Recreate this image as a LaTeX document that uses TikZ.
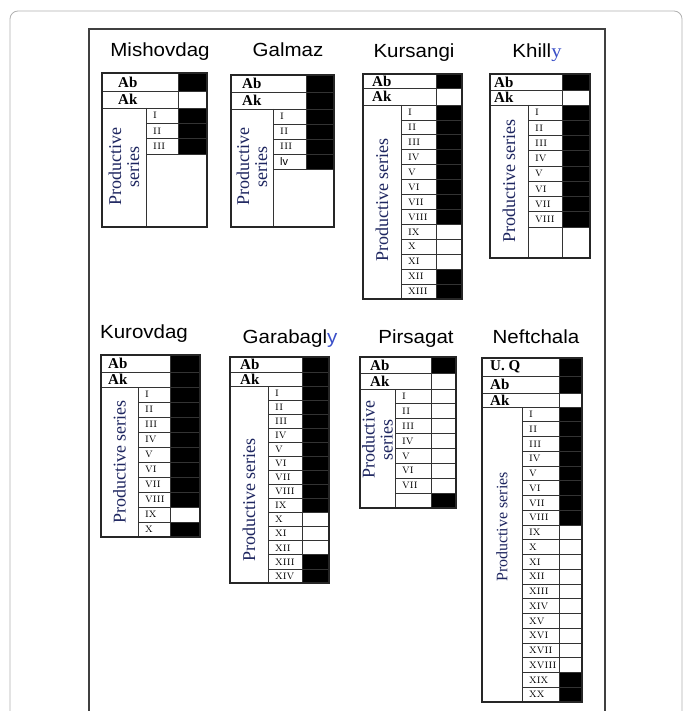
\documentclass[tikz,border=0pt]{standalone}
\usepackage{fontspec}
\usepackage{graphicx}
\newfontfamily\ars{Liberation Sans}
\newfontfamily\tnr{Liberation Serif}
\definecolor{navy}{HTML}{1E2660}
\definecolor{yblue}{HTML}{3A4FC8}
\tikzset{
 tabframe/.style={draw=black!85, line width=1.3pt},
 cellline/.style={draw=black!80, line width=0.8pt},
 ink/.style={fill=black},
 hd/.style={font=\tnr\bfseries\fontsize{15}{15}\selectfont, inner sep=0pt, anchor=west},
 num/.style={font=\fontsize{12.5}{12.5}\selectfont\scshape, inner sep=0pt, anchor=west},
 lab/.style={font=\tnr\fontsize{18}{18}\selectfont, text=navy, inner sep=0pt, rotate=90, align=center},
 ttl/.style={font=\ars\fontsize{19}{19}\selectfont, inner sep=0pt, anchor=base},
}
\newcommand\wide[1]{\scalebox{1.08}[1]{#1}}
% header row: name, L, x2, R, ya, yb, text, black, text offset
\newcommand\hdrow[9]{%
  \ifnum#8=1 \fill[ink] (#3,#5) rectangle (#4,#6);\fi
  \draw[cellline] (#2,#5) rectangle (#3,#6);
  \draw[cellline] (#3,#5) rectangle (#4,#6);
  \node[hd] (#1) at (#2+#9,{(#5+#6)/2}) {#7};}
% numbered rows: name, L, x1, x2, R, y0, h, list
\newcommand\numrows[8]{%
 \foreach \t/\f [count=\i] in {#8}{%
  \pgfmathsetmacro\ya{#6+(\i-1)*#7}%
  \pgfmathsetmacro\yb{#6+\i*#7}%
  \ifnum\f=1 \fill[ink] (#4,\ya) rectangle (#5,\yb);\fi
  \draw[cellline] (#3,\ya) rectangle (#4,\yb);
  \draw[cellline] (#4,\ya) rectangle (#5,\yb);
  \node[num] (#1-\i) at (#3+7,{(\ya+\yb)/2}) {\t};
 }}
\begin{document}
\begin{tikzpicture}[x=1pt,y=-1pt]
\useasboundingbox (0,0) rectangle (684,711);
\fill[white] (0,0) rectangle (684,711);
\clip (0,0) rectangle (684,711);
\draw[draw=black!30, line width=0.8pt, rounded corners=8pt] (10,11) rectangle (682,740);
\draw[draw=black!75, line width=1.3pt] (89,29) rectangle (605,740);

% Mishovdag
\node[ttl] (ms-t) at (160,57) {\wide{Mishovdag}};
\hdrow{ms-ab}{102}{178}{207}{73}{91}{Ab}{1}{16}
\hdrow{ms-ak}{102}{178}{207}{91}{108}{Ak}{0}{16}
\numrows{ms}{102}{146}{178}{207}{108}{15.33}{i/1,ii/1,iii/1}
\draw[cellline] (146,108) -- (146,227);
\draw[tabframe] (102,73) rectangle (207,227);
\node[lab] (ms-l) at (124,167) {Productive\\series};

% Galmaz
\node[ttl] (gz-t) at (288,57) {\wide{Galmaz}};
\hdrow{gz-ab}{231}{306}{334}{75}{92}{Ab}{1}{11}
\hdrow{gz-ak}{231}{306}{334}{92}{109}{Ak}{1}{11}
\numrows{gz}{231}{273}{306}{334}{109}{15}{i/1,ii/1,iii/1,{\normalfont\ars\fontsize{11}{11}\selectfont lv}/1}
\draw[cellline] (273,109) -- (273,227);
\draw[tabframe] (231,75) rectangle (334,227);
\node[lab] (gz-l) at (252,167) {Productive\\series};

% Kursangi
\node[ttl] (ks-t) at (414,58) {\wide{Kursangi}};
\hdrow{ks-ab}{363}{436}{462}{74}{88}{Ab}{1}{9}
\hdrow{ks-ak}{363}{436}{462}{88}{105}{Ak}{0}{9}
\numrows{ks}{363}{401}{436}{462}{105}{14.92}{i/1,ii/1,iii/1,iv/1,v/1,vi/1,vii/1,viii/1,ix/0,x/0,xi/0,xii/1,xiii/1}
\draw[cellline] (401,105) -- (401,299);
\draw[tabframe] (363,74) rectangle (462,299);
\node[lab] (ks-l) at (382,200) {Productive series};

% Khilly
\node[ttl] (kh-t) at (537,58) {\wide{Khill{\color{yblue}\tnr y}}};
\hdrow{kh-ab}{490}{562}{590}{74}{90}{Ab}{1}{4}
\hdrow{kh-ak}{490}{562}{590}{90}{105}{Ak}{0}{4}
\numrows{kh}{490}{528}{562}{590}{105}{15.25}{i/1,ii/1,iii/1,iv/1,v/1,vi/1,vii/1,viii/1}
\draw[cellline] (562,227) -- (562,258);
\draw[cellline] (528,105) -- (528,258);
\draw[tabframe] (490,74) rectangle (590,258);
\node[lab] (kh-l) at (509,181) {Productive series};

% Kurovdag
\node[ttl] (kv-t) at (144,338) {\wide{Kurovdag}};
\hdrow{kv-ab}{101}{170}{200}{355}{372}{Ab}{1}{7}
\hdrow{kv-ak}{101}{170}{200}{372}{387}{Ak}{1}{7}
\numrows{kv}{101}{138}{170}{200}{387}{15}{i/1,ii/1,iii/1,iv/1,v/1,vi/1,vii/1,viii/1,ix/0,x/1}
\draw[cellline] (138,387) -- (138,537);
\draw[tabframe] (101,355) rectangle (200,537);
\node[lab] (kv-l) at (119.5,462) {Productive series};

% Garabagly
\node[ttl] (gb-t) at (290,343) {\wide{Garabagl{\color{yblue}y}}};
\hdrow{gb-ab}{230}{302}{329}{357}{372}{Ab}{1}{10}
\hdrow{gb-ak}{230}{302}{329}{372}{386}{Ak}{1}{10}
\numrows{gb}{230}{268}{302}{329}{386}{14.07}{i/1,ii/1,iii/1,iv/1,v/1,vi/1,vii/1,viii/1,ix/1,x/0,xi/0,xii/0,xiii/1,xiv/1}
\draw[cellline] (268,386) -- (268,583);
\draw[tabframe] (230,357) rectangle (329,583);
\node[lab] (gb-l) at (249,500) {Productive series};

% Pirsagat
\node[ttl] (ps-t) at (416,343) {\wide{Pirsagat}};
\hdrow{ps-ab}{360}{431}{456}{357}{373}{Ab}{1}{10}
\hdrow{ps-ak}{360}{431}{456}{373}{389}{Ak}{0}{10}
\numrows{ps}{360}{395}{431}{456}{389}{14.875}{i/0,ii/0,iii/0,iv/0,v/0,vi/0,vii/0,{}/1}
\draw[cellline] (395,389) -- (395,508);
\draw[tabframe] (360,357) rectangle (456,508);
\node[lab] (ps-l) at (377.5,440) {Productive\\series};

% Neftchala
\node[ttl] (nf-t) at (536,343) {\wide{Neftchala}};
\hdrow{nf-uq}{482}{559}{582}{358}{376}{U. Q}{1}{8}
\hdrow{nf-ab}{482}{559}{582}{376}{393}{Ab}{1}{8}
\hdrow{nf-ak}{482}{559}{582}{393}{407}{Ak}{0}{8}
\numrows{nf}{482}{522}{559}{582}{407}{14.75}{i/1,ii/1,iii/1,iv/1,v/1,vi/1,vii/1,viii/1,ix/0,x/0,xi/0,xii/0,xiii/0,xiv/0,xv/0,xvi/0,xvii/0,xviii/0,xix/1,xx/1}
\draw[cellline] (522,407) -- (522,702);
\draw[tabframe] (482,358) rectangle (582,702);
\node[lab, font=\tnr\fontsize{16}{16}\selectfont] (nf-l) at (502,527) {Productive series};
\end{tikzpicture}
\end{document}
